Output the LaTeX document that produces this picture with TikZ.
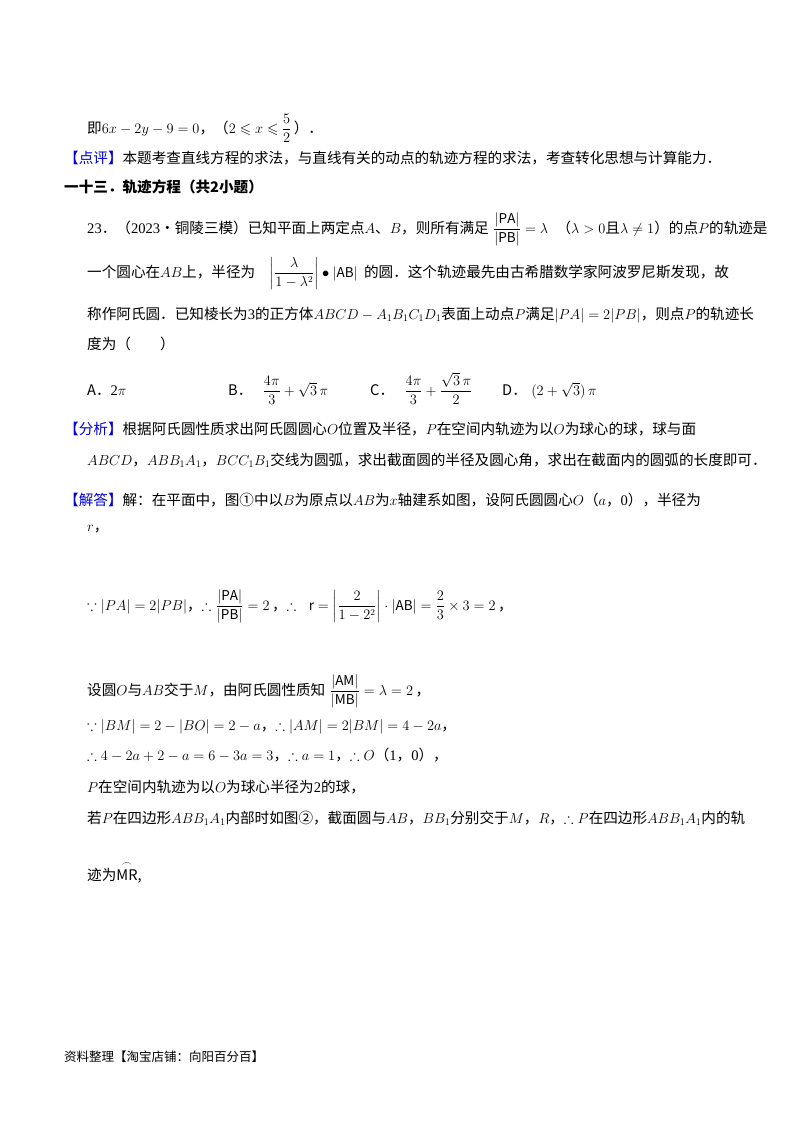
\documentclass[tikz,border=0pt]{standalone}
\usepackage{amsmath,amssymb}
\usepackage{fontspec}
\setmainfont{Noto Sans CJK SC}
\newfontfamily\lat{Liberation Serif}
\begin{document}
\begin{tikzpicture}[x=1pt,y=-1pt,
  t/.style={anchor=base west,inner sep=0pt,font=\fontsize{14.6}{17}\selectfont},
  f/.style={anchor=base west,inner sep=0pt,font=\fontsize{13.5}{16}\selectfont}]
\useasboundingbox[fill=white] (0,0) rectangle (800,1132);
\node[t] (l1) at (87,133) {即$6x-2y-9=0$，（$2\leqslant x\leqslant$};
\node[f,xshift=3pt] (l1f) at (l1.base east) {$\dfrac{5}{2}$};
\node[t,xshift=2pt] (l1e) at (l1f.base east) {）．};
\node[t] (dp) at (64,163) {\textcolor{blue!85!black}{【点评】}本题考查直线方程的求法，与直线有关的动点的轨迹方程的求法，考查转化思想与计算能力．};
\node[t] (h13) at (64,192) {\bfseries 一十三．轨迹方程（共2小题）};
\node[t] (q23) at (87,233) {{\lat 23}．（{\lat 2023}•铜陵三模）已知平面上两定点$A$、$B$，则所有满足};
\node[f,xshift=4pt] (q23f) at (q23.base east) {$\dfrac{|\mathrm{PA}|}{|\mathrm{PB}|}=\lambda$};
\node[t,xshift=8pt] (q23e) at (q23f.base east) {（$\lambda>0$且$\lambda\neq1$）的点$P$的轨迹是};
\node[t] (l2) at (87,277) {一个圆心在$AB$上，半径为};
\node[f,xshift=14pt] (l2f) at (l2.base east) {$\left|\dfrac{\lambda}{1-\lambda^{2}}\right|\bullet|\mathrm{AB}|$};
\node[t,xshift=6pt] (l2e) at (l2f.base east) {的圆．这个轨迹最先由古希腊数学家阿波罗尼斯发现，故};
\node[t] (l3) at (87,319) {称作阿氏圆．已知棱长为{\lat 3}的正方体$ABCD-A_1B_1C_1D_1$表面上动点$P$满足$|PA|=2|PB|$，则点$P$的轨迹长};
\node[t] (l4) at (87,349) {度为（\quad\quad）};
\node[t] (oa) at (87,395) {A．{\lat 2}$\pi$};
\node[t] (ob) at (228,395) {B．};
\node[f,xshift=10pt] (obf) at (ob.base east) {$\dfrac{4\pi}{3}+\sqrt{3}\,\pi$};
\node[t] (oc) at (370,395) {C．};
\node[f,xshift=10pt] (ocf) at (oc.base east) {$\dfrac{4\pi}{3}+\dfrac{\sqrt{3}\,\pi}{2}$};
\node[t] (od) at (502,395) {D．};
\node[f,xshift=4pt] (odf) at (od.base east) {$(2+\sqrt{3})\,\pi$};
\node[t] (fx) at (64,434) {\textcolor{blue!85!black}{【分析】}根据阿氏圆性质求出阿氏圆圆心$O$位置及半径，$P$在空间内轨迹为以$O$为球心的球，球与面};
\node[t] (fx2) at (87,465) {$ABCD$，$ABB_1A_1$，$BCC_1B_1$交线为圆弧，求出截面圆的半径及圆心角，求出在截面内的圆弧的长度即可．};
\node[t] (jd) at (64,505) {\textcolor{blue!85!black}{【解答】}解：在平面中，图①中以$B$为原点以$AB$为$x$轴建系如图，设阿氏圆圆心$O$（$a$，{\lat 0}），半径为};
\node[t] (jd2) at (87,531) {$r$，};
\node[t] (s1) at (87,610) {$\because|PA|=2|PB|$，$\therefore$};
\node[f,xshift=4pt] (s1f) at (s1.base east) {$\dfrac{|\mathrm{PA}|}{|\mathrm{PB}|}=2$};
\node[t,xshift=2pt] (s1b) at (s1f.base east) {，$\therefore$};
\node[f,xshift=12pt] (s1g) at (s1b.base east) {$\mathrm{r}=\left|\dfrac{2}{1-2^{2}}\right|\cdot|\mathrm{AB}|=\dfrac{2}{3}\times3=2$};
\node[t,xshift=2pt] (s1e) at (s1g.base east) {，};
\node[t] (s2) at (87,695) {设圆$O$与$AB$交于$M$，由阿氏圆性质知};
\node[f,xshift=4pt] (s2f) at (s2.base east) {$\dfrac{|\mathrm{AM}|}{|\mathrm{MB}|}=\lambda=2$};
\node[t,xshift=2pt] (s2e) at (s2f.base east) {，};
\node[t] (s3) at (87,730) {$\because|BM|=2-|BO|=2-a$，$\therefore|AM|=2|BM|=4-2a$，};
\node[t] (s4) at (87,760) {$\therefore4-2a+2-a=6-3a=3$，$\therefore a=1$，$\therefore O$（{\lat 1}，{\lat 0}），};
\node[t] (s5) at (87,792) {$P$在空间内轨迹为以$O$为球心半径为{\lat 2}的球，};
\node[t] (s6) at (87,823) {若$P$在四边形$ABB_1A_1$内部时如图②，截面圆与$AB$，$BB_1$分别交于$M$，$R$，$\therefore P$在四边形$ABB_1A_1$内的轨};
\node[t] (s7) at (87,880) {迹为$\overset{\frown}{\mathrm{MR}}$,};
\node[t,font=\fontsize{12.5}{15}\selectfont] (ft) at (64,1061) {资料整理【淘宝店铺：向阳百分百】};
\end{tikzpicture}
\end{document}
